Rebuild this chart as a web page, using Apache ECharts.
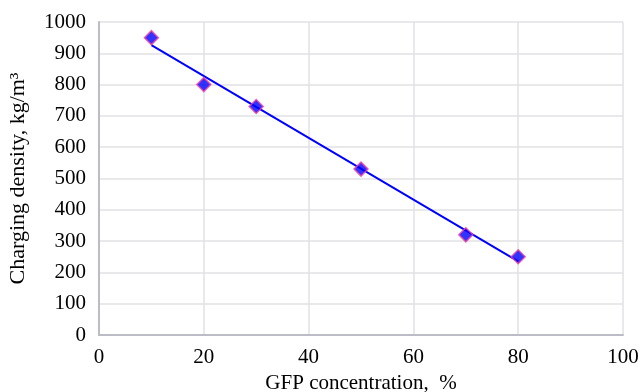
<!DOCTYPE html>
<html><head><meta charset="utf-8">
<script src="https://cdn.jsdelivr.net/npm/echarts@6/dist/echarts.min.js"></script>
<style>html,body{margin:0;padding:0;background:#fff}#c{width:641px;height:392px}</style>
</head><body><div id="c"></div>
<script>
const concentration = [10, 20, 30, 50, 70, 80];
const density = [950, 800, 730, 530, 320, 250];
const trendX = [10, 80];
const trendY = [926, 235];
const xTicks = [0, 20, 40, 60, 80, 100];
const yTicks = [0, 100, 200, 300, 400, 500, 600, 700, 800, 900, 1000];

const font = 'Liberation Serif';
const chart = echarts.init(document.getElementById('c'));
chart.setOption({
  animation: false,
  grid: {left: 99, right: 18, top: 22, bottom: 57, containLabel: false, outerBoundsMode: 'none'},
  xAxis: {
    type: 'value', min: xTicks[0], max: xTicks[xTicks.length-1], interval: 20,
    name: 'GFP concentration,  %', nameLocation: 'middle', nameGap: 32,
    nameTextStyle: {fontFamily: font, fontSize: 21, color: '#000'},
    axisLine: {show: true, lineStyle: {color: '#bcbcc6', width: 2}},
    axisTick: {show: false},
    axisLabel: {fontFamily: font, fontSize: 21, color: '#000', margin: 12, formatter: v => String(v)},
    splitLine: {show: true, lineStyle: {color: '#e2e2e6', width: 1.5}}
  },
  yAxis: {
    type: 'value', min: yTicks[0], max: yTicks[yTicks.length-1], interval: 100,
    name: 'Charging density, kg/m³', nameLocation: 'middle', nameGap: 70,
    nameTextStyle: {fontFamily: font, fontSize: 22, color: '#000'},
    axisLine: {show: true, lineStyle: {color: '#bcbcc6', width: 2}},
    axisTick: {show: false},
    axisLabel: {fontFamily: font, fontSize: 21, color: '#000', margin: 13, formatter: v => String(v)},
    splitLine: {show: true, lineStyle: {color: '#e2e2e6', width: 1.5}}
  },
  series: [
    {
      type: 'line', data: trendX.map((x, i) => [x, trendY[i]]),
      showSymbol: false, lineStyle: {color: '#0000ff', width: 2}, z: 2
    },
    {
      type: 'scatter', data: concentration.map((x, i) => [x, density[i]]),
      symbol: 'diamond', symbolSize: 14,
      itemStyle: {color: '#0000ff', borderColor: '#f040a0', borderWidth: 1.5}, z: 3
    }
  ]
});
</script></body></html>
